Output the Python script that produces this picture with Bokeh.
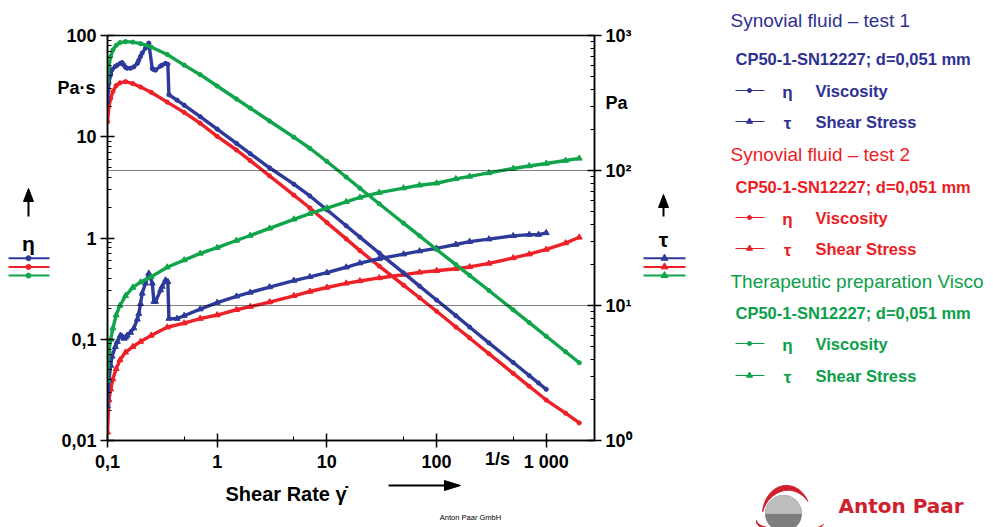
import numpy as np
from bokeh.plotting import figure
from bokeh.layouts import column
from bokeh.models import Range1d, LogAxis, FixedTicker, Span
from bokeh.core.properties import value
from bokeh.embed import file_html
from bokeh.resources import INLINE

# ---------------- data ----------------
shear_rate = [0.1, 0.103, 0.107, 0.112, 0.12, 0.13, 0.146, 0.17, 0.2, 0.25, 0.35, 0.5, 0.7,
              1, 1.5, 2, 3, 5, 7, 10, 15, 20, 30, 50, 70, 100, 150, 200, 300, 500, 700,
              1000, 1500, 2000]

visco_eta = [35, 50, 62, 72, 80, 85, 87, 86, 83, 77, 65, 51, 41, 31.7, 23.6, 19.2, 14.3,
             9.9, 7.7, 5.7, 4.0, 3.1, 2.18, 1.40, 1.05, 0.77, 0.546, 0.428, 0.303,
             0.195, 0.146, 0.107, 0.0752, 0.0586]
visco_tau = [2.8, 4.6, 5.6, 6.8, 8.5, 10, 11.8, 13.6, 14.9, 16.3, 19.2, 21.7, 24.3, 26.8,
             30.3, 33, 37.3, 43.5, 47.9, 52.7, 58.6, 63.2, 68.6, 74.1, 77.8, 80.5, 86.7,
             90.4, 96, 103.5, 108, 112.7, 118.5, 123]

test2_eta = [14, 20, 24, 28, 32, 34, 35, 33.5, 31, 27.5, 22, 17.4, 13.6, 10.1, 7.4, 5.8, 4.1,
             2.65, 1.98, 1.42, 0.98, 0.75, 0.528, 0.342, 0.257, 0.189, 0.132, 0.103,
             0.072, 0.046, 0.0343, 0.0251, 0.0186, 0.0149]
test2_tau = [1.15, 2.0, 2.4, 2.85, 3.4, 3.95, 4.5, 4.95, 5.4, 6.0, 6.9, 7.4, 8.0, 8.5, 9.3,
             9.8, 10.6, 11.8, 12.7, 13.6, 14.6, 15.2, 16.0, 16.9, 17.6, 18.1, 18.7, 19.3,
             20.5, 22.5, 24, 26, 29, 32]

shear_rate_1 = [0.1, 0.103, 0.107, 0.11, 0.118, 0.123, 0.131, 0.136, 0.141, 0.146, 0.151,
                0.162, 0.174, 0.187, 0.193, 0.2, 0.207, 0.222, 0.238, 0.256, 0.265, 0.274,
                0.305, 0.315, 0.338, 0.355, 0.363, 0.43, 0.5, 0.7, 1, 1.5, 2, 3, 5, 7, 10,
                15, 20, 30, 50, 70, 100, 150, 200, 300, 500, 700, 850, 1000]
test1_eta = [22, 34, 41, 46, 49.5, 51, 53, 54, 51, 48.5, 47.5, 47.5, 49, 53, 57, 62, 67, 75,
             84, 47, 46, 45.5, 50, 51, 53, 52, 26, 23, 20.5, 15.8, 11.9, 8.6, 6.8, 4.94,
             3.4, 2.6, 1.9, 1.32, 1.02, 0.71, 0.452, 0.335, 0.244, 0.171, 0.132, 0.092,
             0.0589, 0.0438, 0.037, 0.032]
test1_tau = [1.8, 2.8, 3.6, 4.2, 4.95, 5.4, 6.0, 5.9, 5.7, 5.8, 6.0, 6.3, 6.8, 7.9, 8.7,
             10.3, 12.3, 14.6, 17.3, 14.6, 10.7, 10.7, 13, 13.8, 15.4, 15, 8.0, 8.0, 8.4,
             9.4, 10.5, 11.7, 12.5, 13.7, 15.3, 16.3, 17.5, 19.2, 20.6, 22.2, 24.0, 25.3,
             26.5, 28.3, 29.7, 31.0, 32.8, 33.5, 33.5, 34.5]

x_ticks = [0.1, 1, 10, 100, 1000]
x_tick_labels = ["0,1", "1", "10", "100", "1 000"]
x_minor = [0.5, 5, 50, 500]
eta_ticks = [0.01, 0.1, 1, 10, 100]
eta_tick_labels = ["0,01", "0,1", "1", "10", "100"]
tau_ticks = [1, 10, 100, 1000]
tau_tick_labels = ["10\u2070", "10\u00b9", "10\u00b2", "10\u00b3"]
tau_grid = [10, 100]

series_names = ["Synovial fluid \u2013 test 1", "Synovial fluid \u2013 test 2",
                "Therapeutic preparation Visco"]
geometry_text = "CP50-1-SN12227; d=0,051 mm"

# ---------------- styling ----------------
BLUE, RED, GREEN = "#2E3A9A", "#EE2128", "#11A54B"
TBLUE, TRED, TGREEN = "#2E3192", "#ED1C24", "#0BA04A"
LOGO_RED, LOGO_GRAY, LOGO_LIGHT = "#D0202E", "#7E7E7E", "#BDBDBD"
FONT = "Liberation Sans"
W, H = 993, 527
FL, FR, FT, FB = 107, 594, 35, 440

p = figure(width=W, height=H, x_axis_type="log", y_axis_type="log",
           x_range=Range1d(0.1, 10 ** 3.44), y_range=Range1d(0.01, 100),
           output_backend="svg", toolbar_location=None,
           min_border_left=FL, min_border_right=W - FR,
           min_border_top=FT, min_border_bottom=H - FB)
p.frame_align = False
p.outline_line_color = "black"
p.outline_line_width = 1.5
p.xgrid.visible = False
p.ygrid.visible = False
p.background_fill_color = "white"
p.border_fill_color = "white"
p.extra_y_ranges = {"tau": Range1d(1, 1000)}


def minors(lo, hi):
    return [k * 10.0 ** e for e in range(lo, hi) for k in range(2, 10)]


def style_axis(ax):
    ax.axis_line_width = 1.5
    ax.major_tick_line_width = 1.5
    ax.minor_tick_line_width = 1
    ax.major_tick_in = 7
    ax.major_tick_out = 7
    ax.minor_tick_in = 4
    ax.minor_tick_out = 0
    ax.major_label_text_font = FONT
    ax.major_label_text_font_style = "bold"
    ax.major_label_text_font_size = "18px"
    ax.major_label_text_color = "black"
    ax.major_label_standoff = 4


xa = p.xaxis[0]
xa.ticker = FixedTicker(ticks=x_ticks, minor_ticks=x_minor)
xa.major_label_overrides = dict(zip(x_ticks, x_tick_labels))
style_axis(xa)

ya = p.yaxis[0]
ya.ticker = FixedTicker(ticks=eta_ticks, minor_ticks=minors(-2, 2))
ya.major_label_overrides = dict(zip(eta_ticks, eta_tick_labels))
style_axis(ya)

ra = LogAxis(y_range_name="tau", ticker=FixedTicker(ticks=tau_ticks, minor_ticks=minors(0, 3)))
ra.major_label_overrides = dict(zip(tau_ticks, tau_tick_labels))
style_axis(ra)
p.add_layout(ra, "right")

for g in tau_grid:
    p.add_layout(Span(location=g, dimension="width", y_range_name="tau",
                      line_color="black", line_dash="1 1", line_width=1.2))

curves = [
    (shear_rate, test2_eta, test2_tau, RED),
    (shear_rate_1, test1_eta, test1_tau, BLUE),
    (shear_rate, visco_eta, visco_tau, GREEN),
]
for xs, eta, tau, col in curves:
    p.line(xs, eta, line_color=col, line_width=3.4)
    p.scatter(xs, eta, marker="circle", size=4.2, color=col)
    p.line(xs, tau, line_color=col, line_width=3.4, y_range_name="tau")
    p.scatter(xs, tau, marker="triangle", size=6, color=col, y_range_name="tau")

# ---------------- transparent overlay in pixel coordinates ----------------
ov = figure(width=W, height=H, x_range=Range1d(0, W), y_range=Range1d(H, 0),
            output_backend="svg", toolbar_location=None,
            x_axis_location=None, y_axis_location=None,
            min_border=0, min_border_left=0, min_border_right=0,
            min_border_top=0, min_border_bottom=0)
ov.frame_align = False
ov.xgrid.visible = False
ov.ygrid.visible = False
ov.outline_line_color = None
ov.background_fill_alpha = 0
ov.border_fill_alpha = 0
ov.styles = {"margin-top": f"-{H}px", "position": "relative", "z-index": "2"}


def lab(x, y, text, size, color="black", bold=False, align="left", font=FONT):
    ov.text(x=[x], y=[y], text=[text], text_font=value(font),
            text_font_size=value(f"{size}px"),
            text_font_style="bold" if bold else "normal",
            text_color=color, text_align=align, text_baseline="middle")


def seg(x0, x1, y, col, w=1.3):
    ov.segment(x0=[x0], y0=[y], x1=[x1], y1=[y], line_color=col, line_width=w)


def up_arrow(x, y_bottom, y_top, hl=13, hw=5):
    ov.segment(x0=[x], y0=[y_bottom], x1=[x], y1=[y_top + hl - 1], line_color="black", line_width=2)
    ov.patch([x - hw, x + hw, x], [y_top + hl, y_top + hl, y_top], color="black")


def right_arrow(x_left, x_right, y, hl=16, hw=5):
    ov.segment(x0=[x_left], y0=[y], x1=[x_right - hl + 1], y1=[y], line_color="black", line_width=1.8)
    ov.patch([x_right - hl, x_right - hl, x_right], [y - hw, y + hw, y], color="black")


lab(95, 87, "Pa\u00b7s", 18, bold=True, align="right")
lab(605, 102, "Pa", 18, bold=True)
lab(497, 458, "1/s", 18, bold=True, align="center")

up_arrow(28, 216, 188)
lab(28, 243, "\u03b7", 21, bold=True, align="center")
up_arrow(663, 216, 194)
lab(663, 239, "\u03c4", 21, bold=True, align="center")

strip_cols = [BLUE, RED, GREEN]
for i, c in enumerate(strip_cols):
    y = 257.7 + 8.7 * i
    seg(8, 49, y, c, 2)
    ov.scatter([28], [y], marker="circle", size=5, color=c)
    seg(643, 685, y, c, 2)
    ov.scatter([664], [y], marker="triangle", size=7, color=c)

lab(225, 493, "Shear Rate \u03b3\u0307", 20, bold=True)
right_arrow(388, 460, 485)
lab(470, 517, "Anton Paar GmbH", 7.5, align="center")

rows = [[20, 58, 90, 121], [154, 186, 217, 248], [281, 312, 343, 375]]
tcols = [TBLUE, TRED, TGREEN]
for name, r, c in zip(series_names, rows, tcols):
    lab(730, r[0], name, 19, color=c)
    lab(735, r[1], geometry_text, 16.5, color=c, bold=True)
    seg(735, 764, r[2], c, 1.0)
    ov.scatter([749], [r[2]], marker="circle", size=4, color=c)
    lab(787, r[2] + 2, "\u03b7", 17, color=c, bold=True, align="center")
    lab(815, r[2], "Viscosity", 16.5, color=c, bold=True)
    seg(735, 764, r[3], c, 1.0)
    ov.scatter([749], [r[3]], marker="triangle", size=6, color=c)
    lab(787, r[3] + 2, "\u03c4", 17, color=c, bold=True, align="center")
    lab(815, r[3], "Shear Stress", 16.5, color=c, bold=True)


def crescent(cx, cy, rx, ry, t0, t1, w, n=40):
    t = np.linspace(t0, t1, n)
    taper = np.sin(np.pi * (t - t0) / (t1 - t0))
    xo = cx + rx * np.cos(t)
    yo = cy - ry * np.sin(t)
    xi = cx + (rx - w * taper) * np.cos(t)
    yi = cy - (ry - w * taper) * np.sin(t)
    return list(xo) + list(xi[::-1]), list(yo) + list(yi[::-1])


tt = np.linspace(0, 2 * np.pi, 60)
ov.patch(list(783 + 18 * np.cos(tt)), list(513 + 18 * np.sin(tt)), color=LOGO_GRAY)
th = np.linspace(0, np.pi, 31)
ov.patch(list(783 + 18 * np.cos(th)), list(513 - 18 * np.sin(th)), color=LOGO_LIGHT)
cx, cy = crescent(786, 514, 24, 29, 0.15 * np.pi, 0.97 * np.pi, 5)
ov.patch(cx, cy, color=LOGO_RED)
cx, cy = crescent(790, 521, 34, 12, 0.97 * np.pi, 1.92 * np.pi, 4)
ov.patch(cx, cy, color=LOGO_RED)
lab(838, 505, "Anton Paar", 20, color=LOGO_RED, bold=True, font="DejaVu Sans")

layout = column(p, ov, spacing=0)
open("out.html", "w").write(file_html(layout, INLINE))
